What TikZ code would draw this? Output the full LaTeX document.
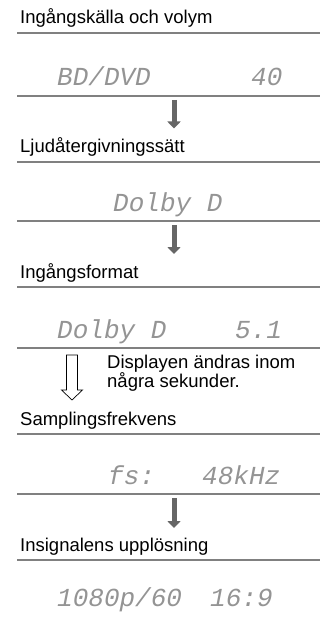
\documentclass[tikz,border=0pt]{standalone}
\usepackage{fontspec}
\setmainfont{Liberation Sans}
\newfontfamily\lcdfont{Liberation Mono}
\usetikzlibrary{arrows.meta}
\begin{document}
\begin{tikzpicture}[x=1pt,y=-1pt,
  lbl/.style={anchor=base west, inner sep=0pt, font=\fontsize{18.5}{20}\selectfont},
  lcd/.style={anchor=base west, inner sep=0pt, text=black!42, font=\fontsize{26}{27}\lcdfont\itshape},
  sepline/.style={draw=black!50, line width=1.2pt},
  flowarrow/.style={draw=black!60, line width=5pt, -{Triangle[width=13pt,length=7pt]}},
  hollowarrow/.style={draw=black, fill=white, line width=0.7pt, line join=miter}
]
\useasboundingbox (0,0) rectangle (320,617);

% separator lines
\foreach \yy in {33,96,162,221,287,348,434,494,560}
  \draw[sepline] (17,\yy) -- (320,\yy);

% labels
\node[lbl] (l1) at (20,24) {Ingångskälla och volym};
\node[lbl] (l2) at (20,153) {Ljudåtergivningssätt};
\node[lbl] (l3) at (20,278) {Ingångsformat};
\node[lbl] (l4) at (20,425) {Samplingsfrekvens};
\node[lbl] (l5) at (20,551) {Insignalens upplösning};

% display texts
\node[lcd] (d1a) at (57,86) {BD/DVD};
\node[lcd] (d1b) at (251,86) {40};
\node[lcd] (d2a) at (113,212) {Dolby D};
\node[lcd] (d3a) at (57,338) {Dolby D};
\node[lcd] (d3b) at (235,338) {5.1};
\node[lcd] (d4a) at (108,484) {fs:};
\node[lcd] (d4b) at (202,484) {48kHz};
\node[lcd] (d5a) at (57,606) {1080p/60};
\node[lcd] (d5b) at (210,606) {16:9};

% note
\node[lbl] (n1) at (107,368.5) {Displayen ändras inom};
\node[lbl] (n2) at (107,387) {några sekunder.};

% arrows
\coordinate (a1s) at (174,100);
\coordinate (a1e) at (174,128.5);
\coordinate (a2s) at (174,225);
\coordinate (a2e) at (174,254);
\coordinate (a4s) at (174,498);
\coordinate (a4e) at (174,528);
\draw[flowarrow] (a1s) -- (a1e);
\draw[flowarrow] (a2s) -- (a2e);
\draw[flowarrow] (a4s) -- (a4e);

% hollow arrow
\draw[hollowarrow] (66.5,355) -- (77.5,355) -- (77.5,390) -- (82.5,390) -- (72,400) -- (61.5,390) -- (66.5,390) -- cycle;
\end{tikzpicture}
\end{document}
